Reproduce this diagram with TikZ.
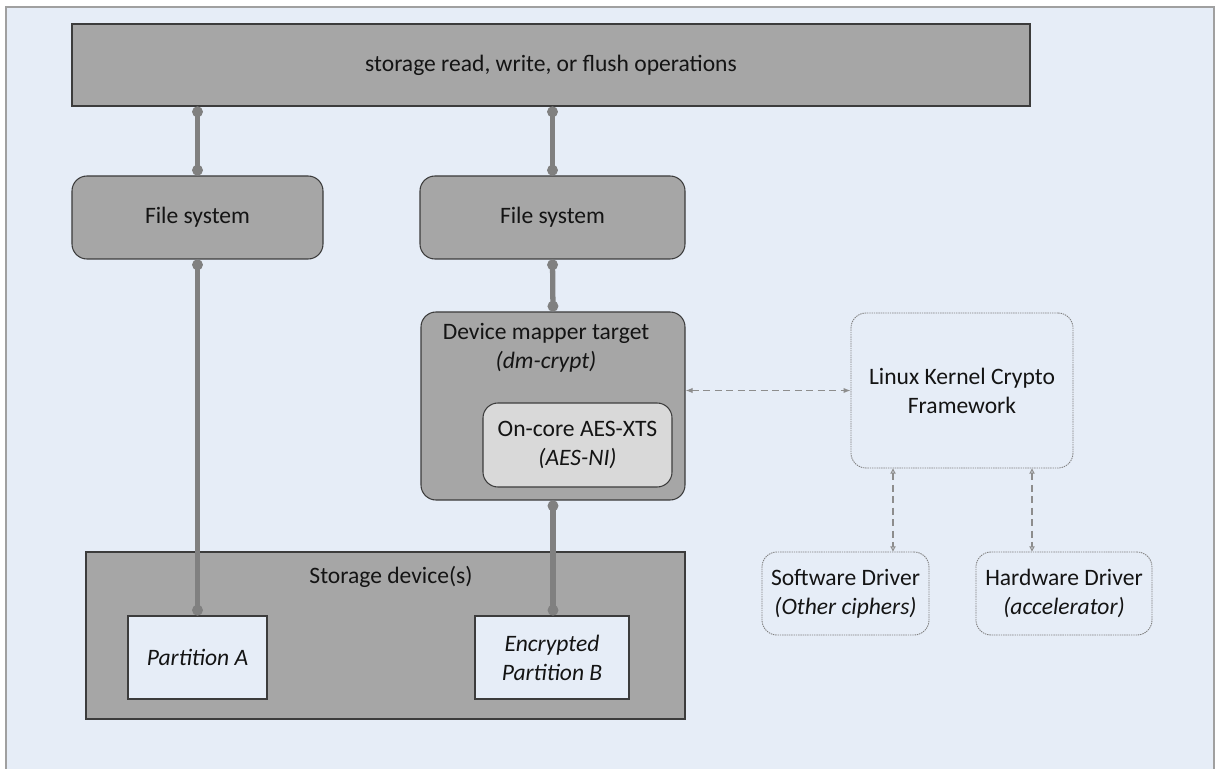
\documentclass[tikz,border=0pt]{standalone}
\usepackage{fontspec}
\setmainfont{Carlito}
\usetikzlibrary{arrows.meta}
\definecolor{bgblue}{RGB}{230,237,247}
\definecolor{boxgray}{RGB}{166,166,166}
\definecolor{aesgray}{RGB}{217,217,217}
\definecolor{linkgray}{RGB}{128,128,128}
\definecolor{edgegray}{RGB}{60,60,60}
\definecolor{framegray}{RGB}{160,160,160}
\definecolor{txt}{RGB}{20,20,20}

\begin{document}
\begin{tikzpicture}[
x=0.2mm, y=-0.2mm,
every node/.style={
align=center,
inner sep=0pt,
text=txt,
font=\fontsize{13.4}{16.5}\selectfont
},
layer/.style={draw=edgegray, line width=0.6pt, fill=boxgray},
softbox/.style={layer, rounded corners=3mm},
part/.style={draw=edgegray, line width=0.6pt, fill=bgblue, font=\fontsize{13.4}{16.5}\selectfont\itshape},
cryptobox/.style={draw=linkgray, line width=0.5pt, dash pattern=on 0.8pt off 0.5pt, rounded corners=3mm},
iolink/.style={draw=linkgray, line width=3pt, {Circle[length=6pt]}-{Circle[length=6pt]}},
apilink/.style={draw=linkgray!90, line width=0.6pt, dash pattern=on 4pt off 2.5pt}
]

% frame
\useasboundingbox (0,0) rectangle (1215,769);
\draw[draw=framegray, line width=0.8pt, fill=bgblue] (6,7) rectangle (1214,775);

% top of the stack
\node[layer, minimum width=191.6mm, minimum height=16.4mm] (ops) at (551,65) {storage read, write, or flush operations};

\node[softbox, minimum width=50.2mm, minimum height=16.6mm] (fsA) at (197.5,217.5) {File system};
\node[softbox, minimum width=53mm, minimum height=16.6mm] (fsB) at (552.5,217.5) {File system};

% dm-crypt
\node[softbox, minimum width=52.8mm, minimum height=37.6mm] (dm) at (553,406) {};
\node (dmtext) at (546,347.5) {Device mapper target\\\textit{(dm-crypt)}};
\node[softbox, fill=aesgray, minimum width=37.8mm, minimum height=16.8mm] (aes) at (577.5,445) {On-core AES-XTS\\\textit{(AES-NI)}};

% crypto API
\node[cryptobox, minimum width=44.4mm, minimum height=31mm] (crypto) at (962,390.5) {Linux Kernel Crypto\\Framework};
\node[cryptobox, minimum width=33.4mm, minimum height=16.6mm] (sw) at (845.5,593.5) {Software Driver\\\textit{(Other ciphers)}};
\node[cryptobox, minimum width=35.2mm, minimum height=16.6mm] (hw) at (1064,593.5) {Hardware Driver\\\textit{(accelerator)}};

% disk
\node[layer, minimum width=119.8mm, minimum height=33.4mm] (stor) at (385.5,635.5) {};
\node (stortext) at (391,577) {Storage device(s)};
\node[part, minimum width=27.8mm, minimum height=16.6mm] (partA) at (197.5,657.5) {Partition A};
\node[part, minimum width=30.8mm, minimum height=16.6mm] (partB) at (552,657.5) {Encrypted\\Partition B};

\draw[iolink] (ops.south -| fsA.north) -- (fsA.north);
\draw[iolink] (ops.south -| fsB.north) -- (fsB.north);
\draw[iolink] (fsA.south) -- (partA.north);
\draw[iolink] (fsB.south) -- (dm.north);
\draw[iolink] (dm.south) -- (dm.south |- partB.north);

\draw[apilink, {Latex[length=4pt,width=3pt]}-{Latex[length=4pt,width=3pt]}] (crypto.west -| dm.east) -- (crypto.west);
\draw[apilink, {Triangle[open,length=3pt,width=3pt]}-{Triangle[open,length=3pt,width=3pt]}] ([xshift=-13.8mm]crypto.south) -- ([xshift=-13.8mm]crypto.south |- sw.north);
\draw[apilink, {Triangle[open,length=3pt,width=3pt]}-{Triangle[open,length=3pt,width=3pt]}] ([xshift=14mm]crypto.south) -- ([xshift=14mm]crypto.south |- hw.north);

\end{tikzpicture}
\end{document}
